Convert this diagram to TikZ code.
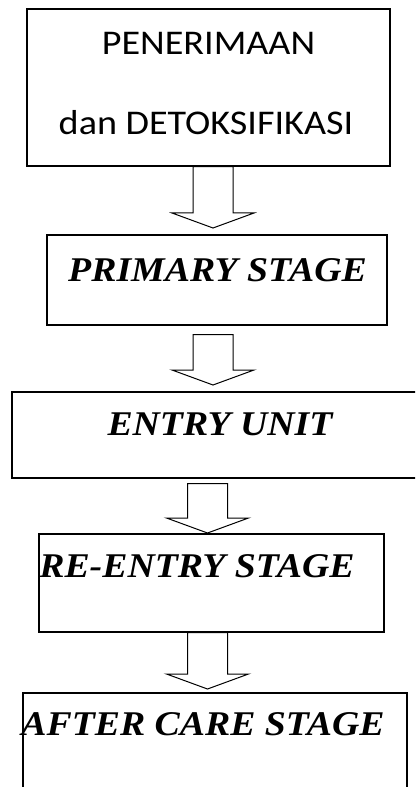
\documentclass[tikz,border=0pt]{standalone}
\usepackage{fontspec}
\setmainfont[FakeStretch=1.09]{Liberation Serif}
\newfontfamily\headsans[FakeStretch=1.1]{Carlito}
\usetikzlibrary{calc,fit}

\tikzset{
  stagebox/.style={draw, line width=0.9pt, inner sep=0pt},
  stagetext/.style={anchor=base, inner sep=0pt, font=\fontsize{26}{30}\selectfont\bfseries\itshape},
  headtext/.style={anchor=base, inner sep=0pt, font=\headsans\fontsize{26}{32}\selectfont},
  flowarrow/.style={draw, line width=0.75pt, line join=miter},
}

% block arrow: #1 = middle of the shaft top, #2 = tip
\newcommand{\stagearrow}[2]{%
  \draw[flowarrow] ($(#1)+(-20,0)$) -- ($(#2)+(-20,-15)$) -- ($(#2)+(-41,-15)$) -- (#2)
    -- ($(#2)+(41,-15)$) -- ($(#2)+(20,-15)$) -- ($(#1)+(20,0)$) -- cycle;}

\begin{document}
\begin{tikzpicture}[x=0.75pt, y=-0.75pt]
    \clip (0,0) rectangle (415,787);

    % Boxes
    \node[stagebox, fit={(27,9) (390,166)}] (boxpen) {};
    \node[stagebox, fit={(47,235) (387,325)}] (boxprimary) {};
    \node[stagebox, fit={(12,392) (430,478)}] (boxentry) {};
    \node[stagebox, fit={(39,534) (384,632)}] (boxreentry) {};
    \node[stagebox, fit={(23,693) (407,800)}] (boxafter) {};

    % Texts
    \node[headtext] (pen) at (208.5,55) {PENERIMAAN};
    \node[headtext] (detok) at (206,135) {dan DETOKSIFIKASI};
    \node[stagetext] (primary) at (217.5,282) {PRIMARY STAGE};
    \node[stagetext] (entry) at (220,435) {ENTRY UNIT};
    \node[stagetext] (reentry) at (197,577) {RE-ENTRY STAGE};
    \node[stagetext] (after) at (203,735) {AFTER CARE STAGE};

    % Arrows
    \coordinate (tip1) at (213,228);
    \coordinate (tip2) at (213,385);
    \coordinate (tip3) at (207.5,533);
    \coordinate (tip4) at (207.5,689);
    \coordinate (top1) at (tip1 |- boxpen.south);
    \coordinate (top2) at ($(tip2 |- boxprimary.south)+(0,9)$);
    \coordinate (top3) at ($(tip3 |- boxentry.south)+(0,5)$);
    \coordinate (top4) at (tip4 |- boxreentry.south);
    \stagearrow{top1}{tip1}
    \stagearrow{top2}{tip2}
    \stagearrow{top3}{tip3}
    \stagearrow{top4}{tip4}
\end{tikzpicture}
\end{document}
